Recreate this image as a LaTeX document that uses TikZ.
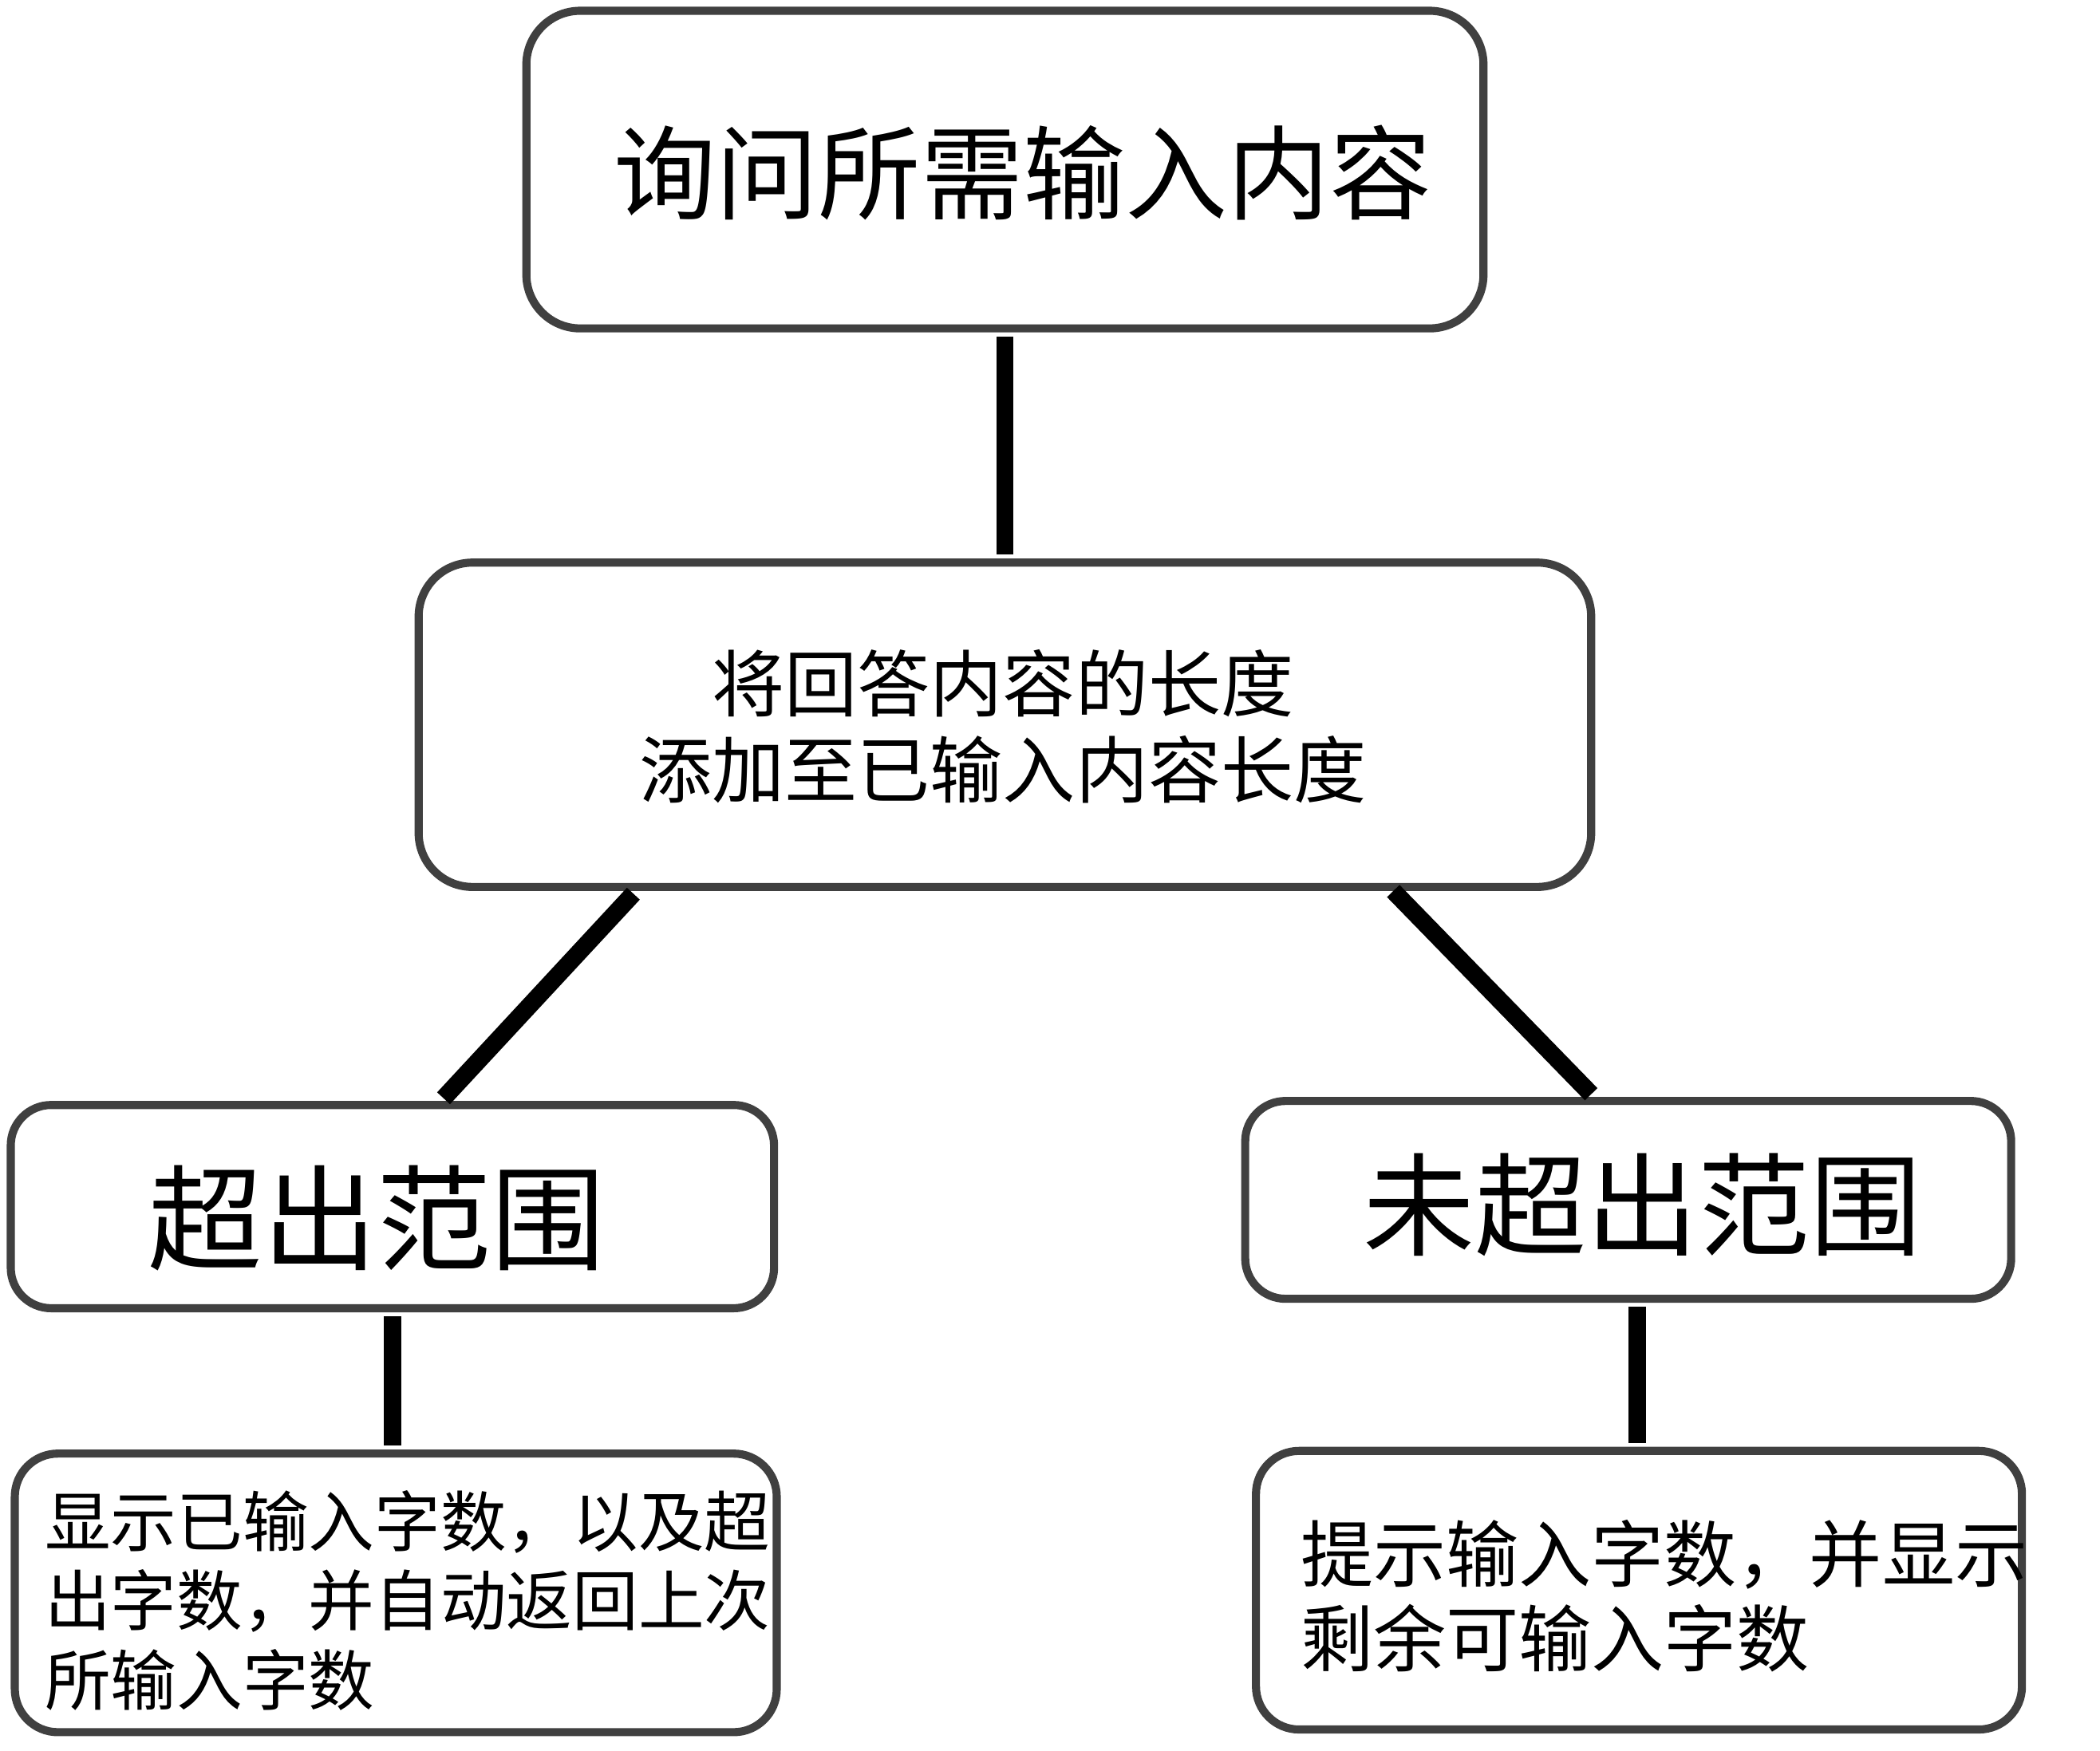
\documentclass[tikz,border=0pt]{standalone}
\usepackage{fontspec}
\newfontfamily\cjk{Noto Sans CJK SC}
\usetikzlibrary{calc}
\definecolor{boxgray}{HTML}{404040}
\tikzset{
  box/.style={draw=boxgray, line width=6pt, fill=white, inner sep=0pt, rounded corners=#1},
  box/.default=38pt,
  conn/.style={draw=black, line width=13pt, line cap=butt},
  txt/.style={inner sep=0pt, font=\cjk},
}
\begin{document}
\begin{tikzpicture}[x=1pt,y=-1pt]
\useasboundingbox[fill=white] (0,0) rectangle (1560,1300.4);
% boxes
\node[box=40pt, minimum width=711pt, minimum height=236pt] (q) at (746.5,126) {};
\node[box=40pt, minimum width=871pt, minimum height=241pt] (m) at (746.5,538.5) {};
\node[box=30pt, minimum width=567pt, minimum height=151pt] (l) at (291.5,896.5) {};
\node[box=30pt, minimum width=569pt, minimum height=147pt] (r) at (1209.5,891.5) {};
\node[box=32pt, minimum width=566pt, minimum height=207pt] (bl) at (294,1183.5) {};
\node[box=32pt, minimum width=569pt, minimum height=207pt] (br) at (1217.5,1181.5) {};
% texts
\node[txt, font=\cjk\fontsize{76}{90}\selectfont] (tq) at (760,128) {询问所需输入内容};
\node[txt, font=\cjk\fontsize{54}{64}\selectfont, align=center] (tm) at (745,540) {将回答内容的长度\\添加至已输入内容长度};
\node[txt, font=\cjk\fontsize{85}{100}\selectfont] (tl) at (280,905) {超出范围};
\node[txt, font=\cjk\fontsize{83}{100}\selectfont] (tr) at (1220,895) {未超出范围};
\node[txt, font=\cjk\fontsize{49}{59}\selectfont, align=left, anchor=west] (tbl) at (33,1189) {显示已输入字数，以及超\\出字数，并自动返回上次\\所输入字数};
\node[txt, font=\cjk\fontsize{54}{63}\selectfont, align=left, anchor=west] (tbr) at (966,1186) {提示输入字数，并显示\\剩余可输入字数};
% connectors
\draw[conn] ($(q.south)+(0,3)$) -- ($(m.north)+(0,-3)$);
\draw[conn] ($(m.south)+(-276,2)$) -- ($(l.north)+(38,-2)$);
\draw[conn] ($(m.south)+(288.5,0)$) -- ($(r.north)+(-27.5,-2)$);
\draw[conn] ($(l.south)+(0,3)$) -- ($(l.south |- bl.north)+(0,-3)$);
\draw[conn] ($(br.north)+(-1.5,-3)$) -- ($(br.north |- r.south)+(-1.5,3)$);
\end{tikzpicture}
\end{document}
